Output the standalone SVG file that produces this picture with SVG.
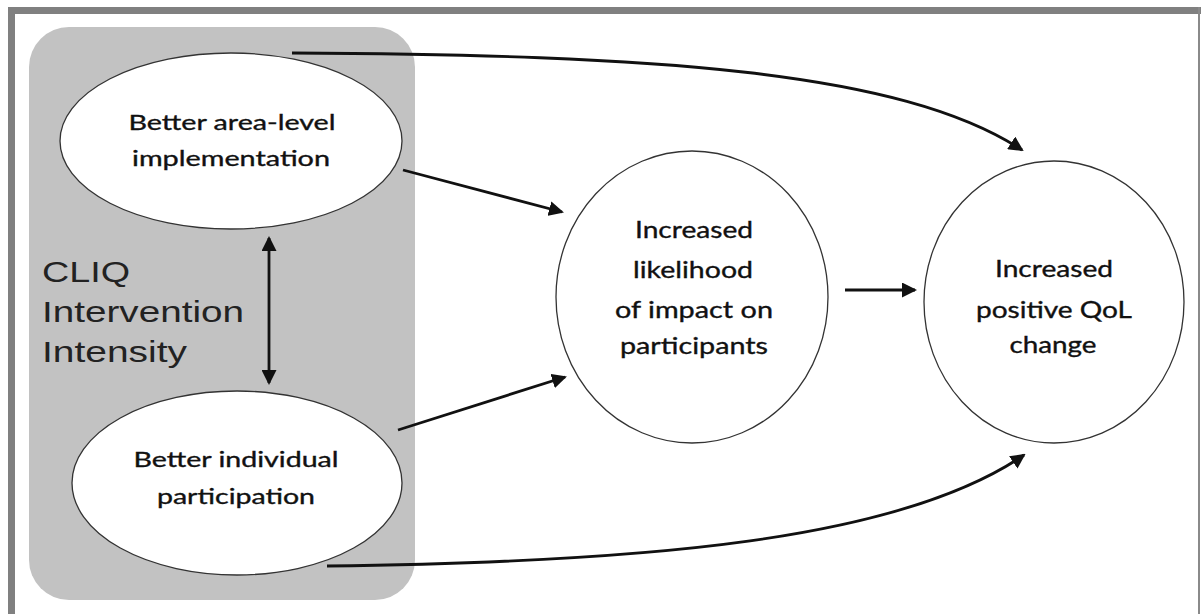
<svg xmlns="http://www.w3.org/2000/svg" width="1203" height="614" viewBox="0 0 1203 614">
  <defs>
    <marker id="head" markerUnits="userSpaceOnUse" markerWidth="15" markerHeight="15" refX="13" refY="7.5" orient="auto-start-reverse" viewBox="0 0 15 15">
      <path d="M0,0 L15,7.5 L0,15 z" fill="#111"/>
    </marker>
  </defs>
  <style>
    .node { fill: #ffffff; stroke: #333333; stroke-width: 1.3; }
    .label { font-family: Lato, "Open Sans", "Liberation Sans", sans-serif; fill: #111111; stroke: #111111; stroke-width: 0.35; text-anchor: middle; }
    .oval { font-size: 21px; }
    .round { font-size: 23px; }
    .edge { fill: none; stroke: #111111; stroke-width: 2.8; marker-end: url(#head); }
    .title { font-family: "Liberation Sans", Arial, sans-serif; font-size: 30px; fill: #222222; }
  </style>

  <!-- page background and frame -->
  <rect x="0" y="0" width="1203" height="614" fill="#ffffff"/>
  <rect x="8" y="7" width="1193" height="7" fill="#808080"/>
  <rect x="8" y="7" width="7" height="607" fill="#808080"/>
  <rect x="1198" y="7" width="2" height="607" fill="#8a8a8a"/>

  <!-- intervention intensity panel -->
  <g id="intensity-panel">
    <rect x="29" y="27" width="386" height="573" rx="40" ry="40" fill="#c2c2c2"/>
    <text class="title" x="42" y="282" textLength="88" lengthAdjust="spacingAndGlyphs">CLIQ</text>
    <text class="title" x="42" y="322" textLength="202" lengthAdjust="spacingAndGlyphs">Intervention</text>
    <text class="title" x="42" y="362" textLength="145" lengthAdjust="spacingAndGlyphs">Intensity</text>
  </g>

  <g id="area-level">
    <ellipse class="node" cx="231" cy="141" rx="171" ry="88"/>
    <text class="label oval" x="232" y="130" textLength="207" lengthAdjust="spacingAndGlyphs">Better area-level</text>
    <text class="label oval" x="231" y="166" textLength="198" lengthAdjust="spacingAndGlyphs">implementation</text>
  </g>

  <g id="individual">
    <ellipse class="node" cx="237" cy="483" rx="165" ry="92"/>
    <text class="label oval" x="236" y="467" textLength="205" lengthAdjust="spacingAndGlyphs">Better individual</text>
    <text class="label oval" x="236" y="504" textLength="158" lengthAdjust="spacingAndGlyphs">participation</text>
  </g>

  <g id="likelihood">
    <ellipse class="node" cx="692" cy="297" rx="136" ry="146"/>
    <text class="label round" x="694" y="238" textLength="118" lengthAdjust="spacingAndGlyphs">Increased</text>
    <text class="label round" x="693" y="278" textLength="120" lengthAdjust="spacingAndGlyphs">likelihood</text>
    <text class="label round" x="694" y="318" textLength="158" lengthAdjust="spacingAndGlyphs">of impact on</text>
    <text class="label round" x="694" y="354" textLength="148" lengthAdjust="spacingAndGlyphs">participants</text>
  </g>

  <g id="qol-change">
    <ellipse class="node" cx="1054" cy="302" rx="130" ry="141"/>
    <text class="label round" x="1054" y="277" textLength="118" lengthAdjust="spacingAndGlyphs">Increased</text>
    <text class="label round" x="1054" y="318" textLength="156" lengthAdjust="spacingAndGlyphs">positive QoL</text>
    <text class="label round" x="1053" y="353" textLength="87" lengthAdjust="spacingAndGlyphs">change</text>
  </g>

  <g id="connectors">
    <path class="edge" d="M269,238 L269,383" marker-start="url(#head)"/>
    <path class="edge" d="M403,170 L562,212"/>
    <path class="edge" d="M398,430 L565,377"/>
    <path class="edge" d="M845,290 L915,290"/>
    <path class="edge" d="M292,53 C650,55 900,70 1022,150"/>
    <path class="edge" d="M327,566 C650,562 900,540 1024,455"/>
  </g>
</svg>
